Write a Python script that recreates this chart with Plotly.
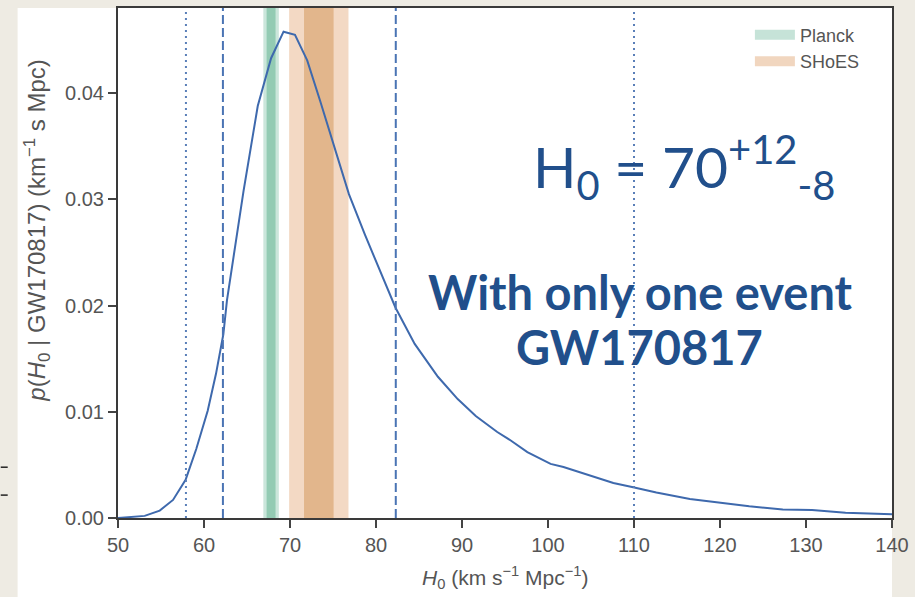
import plotly.graph_objects as go

# ---- data ----
h0 = [50.0, 53.1, 54.85, 56.4, 57.86, 59.1, 60.43, 61.4, 62.25, 62.67, 64.6, 66.25,
      67.8, 69.25, 70.58, 72.0, 73.5, 75.1, 76.85, 78.7, 80.65, 82.27, 84.5, 87.2,
      89.5, 91.6, 94.1, 95.67, 97.6, 100.3, 101.8, 104.1, 105.7, 107.6, 109.9, 112.6,
      116.5, 120.3, 123.4, 127.3, 130.7, 134.6, 140.0]
pdf = [0.0000, 0.0002, 0.0007, 0.0017, 0.0036, 0.0065, 0.0101, 0.0136, 0.0173, 0.0205,
       0.0308, 0.0388, 0.0433, 0.0458, 0.0455, 0.0431, 0.0393, 0.0350, 0.0305, 0.0267,
       0.0230, 0.0198, 0.0164, 0.0133, 0.0112, 0.0096, 0.0081, 0.0073, 0.0062, 0.0051,
       0.0048, 0.0042, 0.0038, 0.0033, 0.0029, 0.0024, 0.0018, 0.0014, 0.0011, 0.0008,
       0.00075, 0.0005, 0.00035]

dashed_lines = [62.2, 82.3]      # 68.3% interval
dotted_lines = [57.9, 110.0]     # 95.4% interval

planck_center, planck_s1, planck_s2 = 67.8, 0.52, 0.9
shoes_center, shoes_s1, shoes_s2 = 73.35, 1.72, 3.45

x_ticks = [50, 60, 70, 80, 90, 100, 110, 120, 130, 140]
y_ticks = [0.00, 0.01, 0.02, 0.03, 0.04]

BLUE = "#3e69ad"
TXT = "#214f8b"
GRAY = "#555555"

fig = go.Figure()

shapes = []
# white panel behind everything (paper coords)
shapes.append(dict(type="rect", xref="paper", yref="paper", x0=-0.1297, x1=1.0,
                   y0=-0.3, y1=1.0, fillcolor="white", line_width=0, layer="below"))
# bands
bands = [
    (shoes_center - shoes_s2, shoes_center + shoes_s2, "#f3d9c4"),
    (shoes_center - shoes_s1, shoes_center + shoes_s1, "#e2b68c"),
    (planck_center - planck_s2, planck_center + planck_s2, "#cbe6db"),
    (planck_center - planck_s1, planck_center + planck_s1, "#93cbb3"),
]
for a, b, c in bands:
    shapes.append(dict(type="rect", xref="x", yref="paper", x0=a, x1=b, y0=0, y1=1,
                       fillcolor=c, line_width=0, layer="below"))
for v in dashed_lines:
    shapes.append(dict(type="line", xref="x", yref="paper", x0=v, x1=v, y0=0, y1=1,
                       line=dict(color="#4a74b4", width=2, dash="9px,4px")))
for v in dotted_lines:
    shapes.append(dict(type="line", xref="x", yref="paper", x0=v, x1=v, y0=0, y1=1,
                       line=dict(color="#5a7fb8", width=2, dash="2px,4px")))
# tiny marks at left edge
for yy in [0.0996, 0.0449]:
    shapes.append(dict(type="line", xref="paper", yref="paper", x0=-0.1515, x1=-0.1425,
                       y0=yy, y1=yy, line=dict(color="#222222", width=1.5)))

fig.add_trace(go.Scatter(x=h0, y=pdf, mode="lines", line=dict(color=BLUE, width=2),
                         showlegend=False, hoverinfo="skip"))
# legend entries
fig.add_trace(go.Scatter(x=[None], y=[None], mode="lines", name="Planck",
                         line=dict(color="#c6e3d8", width=11)))
fig.add_trace(go.Scatter(x=[None], y=[None], mode="lines", name="SHoES",
                         line=dict(color="#f1d6bf", width=11)))

annotations = [
    dict(text="H<sub>0</sub> = 70<sup>+12</sup><sub>-8</sub>", xref="paper", yref="paper",
         x=0.533, y=0.7745, xanchor="left", yanchor="top", showarrow=False,
         font=dict(family="Lato", size=57, color=TXT)),
    dict(text="<b>With only one event</b>", xref="paper", yref="paper",
         x=0.6752, y=0.4425, xanchor="center", yanchor="middle", showarrow=False,
         font=dict(family="Lato", size=47, color=TXT)),
    dict(text="<b>GW170817</b>", xref="paper", yref="paper",
         x=0.6733, y=0.3345, xanchor="center", yanchor="middle", showarrow=False,
         font=dict(family="Lato", size=47, color=TXT)),
    dict(text="<i>p</i>(<i>H</i><sub>0</sub> | GW170817) (km<sup>−1</sup> s Mpc)",
         xref="paper", yref="paper", x=-0.104, y=0.5625, xanchor="center", yanchor="middle",
         textangle=-90, showarrow=False,
         font=dict(family="Liberation Sans", size=24, color=GRAY)),
    dict(text="<i>H</i><sub>0</sub> (km s<sup>−1</sup> Mpc<sup>−1</sup>)",
         xref="paper", yref="paper", x=0.5, y=-0.117, xanchor="center", yanchor="middle",
         showarrow=False, font=dict(family="Liberation Sans", size=21, color=GRAY)),
]

fig.update_layout(
    width=915, height=597,
    margin=dict(l=118, r=18, t=6, b=79),
    paper_bgcolor="#eeebe3", plot_bgcolor="white",
    shapes=shapes, annotations=annotations,
    legend=dict(x=0.8164, y=0.983, xanchor="left", yanchor="top",
                bgcolor="rgba(0,0,0,0)", font=dict(family="Liberation Sans", size=18, color=GRAY),
                tracegroupgap=0, itemwidth=40),
    font=dict(family="Liberation Sans", color=GRAY),
)
fig.update_xaxes(range=[50, 140], tickvals=x_ticks, ticks="outside", ticklen=8,
                 tickcolor="#444", tickwidth=1.5, showgrid=False, zeroline=False,
                 showline=True, linecolor="#3a3a3a", linewidth=2, mirror=True,
                 tickfont=dict(family="Liberation Sans", size=20, color=GRAY))
fig.update_yaxes(range=[0, 0.04803], tickvals=y_ticks, tickformat=".2f", ticks="outside",
                 ticklen=8, tickcolor="#444", tickwidth=1.5, showgrid=False, zeroline=False,
                 showline=True, linecolor="#3a3a3a", linewidth=2, mirror=True,
                 tickfont=dict(family="Liberation Sans", size=20, color=GRAY))

fig.write_html("out.html")
